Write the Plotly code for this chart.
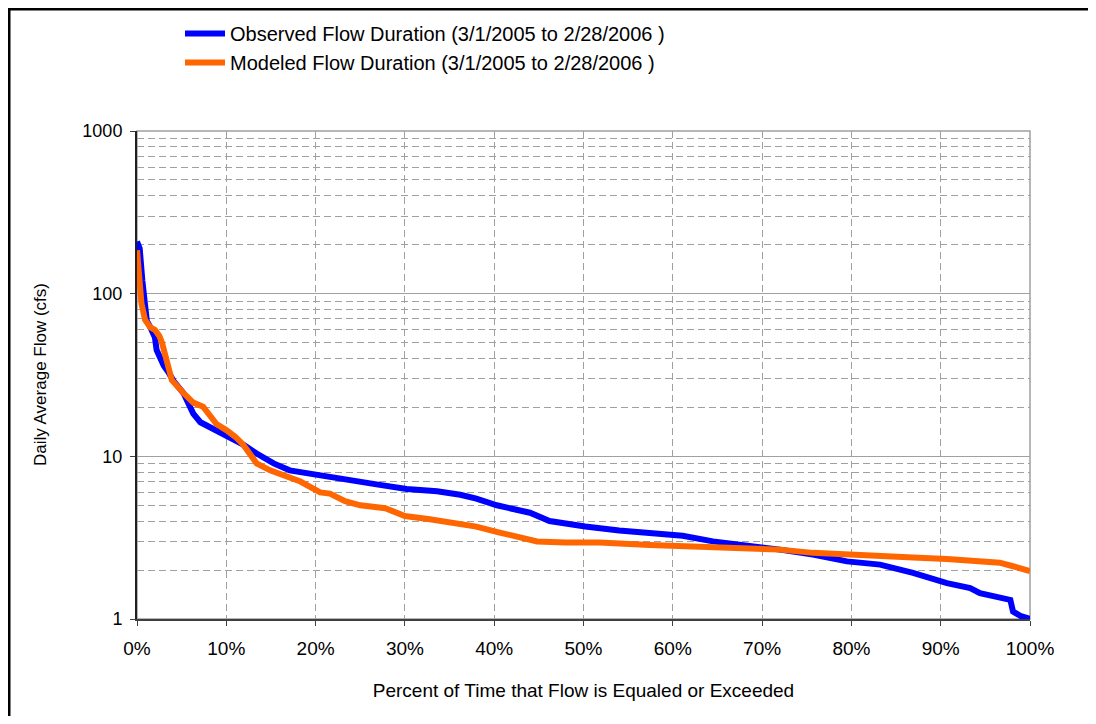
import plotly.graph_objects as go

# Flow duration curves
obs_pct = [0, 0.3, 0.6, 0.9, 1.1, 1.5, 2.0, 2.2, 2.6, 3.0, 3.5, 4.1, 5.2, 5.8, 6.3, 7.1,
           8.5, 9.5, 10.4, 11.9, 13.4, 15.3, 17.1, 18.3, 20.5, 22, 25, 27, 30.2, 33.6,
           36.2, 38, 40.3, 42, 44, 46.2, 48, 50.2, 54, 57.4, 61.1, 64.5, 68.3, 72,
           75.7, 79.5, 83.2, 86.9, 90.7, 93.3, 94.4, 96, 97.8, 98.1, 99, 100]
obs_flow = [209, 190, 120, 83, 68, 62, 54, 45, 39, 36, 33, 29, 24.5, 21, 18.3, 16.2,
            14.8, 14, 13.2, 11.8, 10.4, 9.05, 8.2, 8.0, 7.6, 7.3, 7.0, 6.7, 6.3, 6.1,
            5.8, 5.5, 5.0, 4.8, 4.5, 4.0, 3.85, 3.7, 3.5, 3.35, 3.25, 3.0, 2.84, 2.67,
            2.49, 2.26, 2.16, 1.92, 1.66, 1.55, 1.44, 1.38, 1.31, 1.11, 1.04, 1.0]

mod_pct = [0, 0.2, 0.5, 0.9, 1.5, 2.0, 2.5, 2.8, 3.3, 3.9, 5.2, 6.3, 7.4, 8.2, 8.9,
           10.0, 11.0, 11.9, 13.4, 14.9, 16.5, 17.9, 18.3, 20.5, 21.6, 23.3, 25, 27.8,
           30, 32.8, 36.2, 38, 40.6, 42, 44.8, 48, 51.8, 57.4, 61.1, 64.5, 68.3, 72,
           75.7, 79.5, 83.2, 86.9, 90.7, 94.4, 96.6, 98.1, 100]
mod_flow = [185, 140, 87, 69, 62, 60, 55, 50, 39, 29.4, 24.5, 21.4, 20.2, 18, 15.8,
            14.5, 13.2, 11.8, 9.05, 8.2, 7.6, 7.2, 7.0, 6.0, 5.9, 5.3, 5.0, 4.8,
            4.3, 4.1, 3.85, 3.7, 3.4, 3.25, 3.0, 2.95, 2.95, 2.85, 2.81, 2.75, 2.73, 2.67,
            2.55, 2.51, 2.43, 2.39, 2.34, 2.26, 2.22, 2.11, 1.97]

y_ticks = [1, 10, 100, 1000]
y_minor = [m * d for d in (1, 10, 100) for m in range(2, 10)]
x_ticks = list(range(0, 101, 10))
x_labels = [f"{v}%" for v in x_ticks]

font = "Liberation Sans, Arial, sans-serif"
grid = "#a0a0a0"

# page body has an 8px margin, so the figure is 16px smaller than the window
W, H = 1080, 708
L, R, T, B = 129, 58, 123, 97
pw, ph = W - L - R, H - T - B

fig = go.Figure()
fig.add_scatter(x=obs_pct, y=obs_flow, mode="lines",
                line=dict(color="#0000ff", width=6),
                name="Observed Flow Duration (3/1/2005 to 2/28/2006 )")
fig.add_scatter(x=mod_pct, y=mod_flow, mode="lines",
                line=dict(color="#ff6600", width=6),
                name="Modeled Flow Duration (3/1/2005 to 2/28/2006 )")

fig.update_xaxes(
    range=[0, 100], tickvals=x_ticks, ticktext=x_labels,
    showgrid=True, gridcolor=grid, griddash="7px,4px", gridwidth=1,
    showline=True, linecolor="#404040", linewidth=2,
    ticks="outside", ticklen=5, tickcolor="#404040", ticklabelstandoff=6,
    zeroline=False, automargin=False,
    title=dict(text="Percent of Time that Flow is Equaled or Exceeded", standoff=26,
               font=dict(size=19)),
    tickfont=dict(size=19),
)
fig.update_yaxes(
    type="log", range=[0, 3], tickvals=y_ticks, ticktext=[str(v) for v in y_ticks],
    showgrid=True, gridcolor=grid, gridwidth=1,
    minor=dict(tickvals=y_minor, showgrid=True, gridcolor=grid, griddash="7px,4px", ticks=""),
    showline=True, linecolor="#202020", linewidth=2,
    ticks="outside", ticklen=5, tickcolor="#404040", ticklabelstandoff=4,
    automargin=False,
    tickfont=dict(size=18),
)

# y title as an annotation so it stays put with fixed margins
fig.add_annotation(text="Daily Average Flow (cfs)", textangle=-90, showarrow=False,
                   xref="paper", yref="paper", x=(32 - L) / pw, y=0.5,
                   xanchor="center", yanchor="middle", font=dict(size=17))

# grey plot-area border and the black outer frame
fig.add_shape(type="rect", xref="paper", yref="paper", x0=0, y0=0, x1=1, y1=1,
              line=dict(color=grid, width=1.5), layer="below")
fig.add_shape(type="rect", xref="paper", yref="paper",
              x0=(1 - L) / pw, y0=-0.4, x1=1.3, y1=1 + (T - 1) / ph,
              line=dict(color="black", width=3))

fig.update_layout(
    width=W, height=H,
    margin=dict(l=L, r=R, t=T, b=B, autoexpand=False),
    paper_bgcolor="white", plot_bgcolor="white",
    font=dict(family=font, size=18, color="black"),
    showlegend=True,
    legend=dict(x=(172 - L) / pw, y=1 + (T - 6) / ph, xanchor="left", yanchor="top",
                font=dict(size=20), bgcolor="rgba(0,0,0,0)", itemwidth=40),
)

fig.write_html("out.html")
